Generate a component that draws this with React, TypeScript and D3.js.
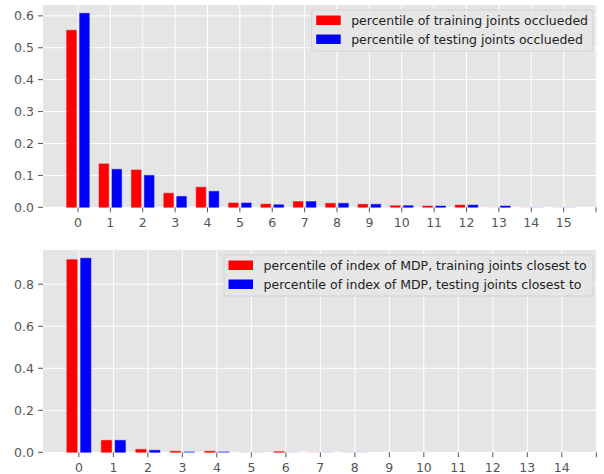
import React from "react";
import * as d3 from "d3";

// top panel: occlusion percentile per joint count
const occIdx = d3.range(16);
const occTrain = [0.555, 0.136, 0.117, 0.044, 0.063, 0.0135, 0.010, 0.018, 0.0125, 0.0094, 0.005, 0.004, 0.007, 0.0003, 0.0003, 0.0002];
const occTest = [0.608, 0.119, 0.100, 0.034, 0.050, 0.0135, 0.008, 0.018, 0.0125, 0.0094, 0.005, 0.004, 0.007, 0.004, 0.0003, 0.0002];
const occTicks = d3.range(17);
const occTickLabels = ["0", "1", "2", "3", "4", "5", "6", "7", "8", "9", "10", "11", "12", "13", "14", "15", ""];
const occYTicks = [0, 0.1, 0.2, 0.3, 0.4, 0.5, 0.6];
const occLegend = ["percentile of training joints occlueded", "percentile of testing joints occlueded"];

// bottom panel: index of MDP closest to joints
const mdpIdx = d3.range(15);
const mdpTrain = [0.917, 0.057, 0.014, 0.005, 0.005, 0.0003, 0.003, 0.0003, 0.0003, 0, 0, 0, 0, 0, 0];
const mdpTest = [0.924, 0.057, 0.0095, 0.002, 0.002, 0.0003, 0.0003, 0.0003, 0.0003, 0, 0, 0, 0, 0, 0];
const mdpTicks = d3.range(16);
const mdpTickLabels = ["0", "1", "2", "3", "4", "5", "6", "7", "8", "9", "10", "11", "12", "13", "14", ""];
const mdpYTicks = [0, 0.2, 0.4, 0.6, 0.8];
const mdpLegend = ["percentile of index of MDP, training joints closest to", "percentile of index of MDP, testing joints closest to"];

const FONT = "DejaVu Sans";
const TICK_COLOR = "#555555";

function Panel({ top, bottom, idx, a, b, xDomain, yDomain, ticks, tickLabels, yTicks, legend, legendBox }) {
  const left = 43;
  const right = 597;
  const x = d3.scaleLinear().domain(xDomain).range([left, right]);
  const y = d3.scaleLinear().domain(yDomain).range([bottom, top]);
  const w = x(0.3) - x(0);
  const bars = [
    { vals: a, off: -0.2, color: "red" },
    { vals: b, off: 0.2, color: "blue" },
  ];
  return (
    <g>
      <rect x={left} y={top} width={right - left} height={bottom - top} fill="#e5e5e5" />
      {ticks.map(t => (
        <line key={"gx" + t} x1={x(t)} x2={x(t)} y1={top} y2={bottom} stroke="white" strokeWidth={1} />
      ))}
      {yTicks.map(t => (
        <line key={"gy" + t} x1={left} x2={right} y1={y(t)} y2={y(t)} stroke="white" strokeWidth={1} />
      ))}
      {bars.map(s =>
        idx.map(i =>
          s.vals[i] > 0 ? (
            <rect
              key={s.color + i}
              x={x(i + s.off) - w / 2}
              y={y(s.vals[i])}
              width={w}
              height={y(0) - y(s.vals[i])}
              fill={s.color}
              stroke={s.color}
              strokeOpacity={s.vals[i] < 0.001 ? 0.12 : 0.45}
              strokeWidth={1}
              fillOpacity={s.vals[i] < 0.001 ? 0.1 : s.vals[i] < 0.003 ? 0.4 : 1}
            />
          ) : null
        )
      )}
      {ticks.map((t, i) => (
        <g key={"tx" + t}>
          <line x1={x(t)} x2={x(t)} y1={bottom} y2={bottom + 5} stroke={TICK_COLOR} />
          <text x={x(t)} y={bottom + 15} textAnchor="middle" dominantBaseline="central" fill={TICK_COLOR} fontSize={12.5} fontFamily={FONT}>
            {tickLabels[i]}
          </text>
        </g>
      ))}
      {yTicks.map(t => (
        <g key={"ty" + t}>
          <line x1={left - 5} x2={left} y1={y(t)} y2={y(t)} stroke={TICK_COLOR} />
          <text x={left - 9} y={y(t)} textAnchor="end" dominantBaseline="central" fill={TICK_COLOR} fontSize={12.5} fontFamily={FONT}>
            {d3.format(".1f")(t)}
          </text>
        </g>
      ))}
      <rect x={legendBox.x} y={legendBox.y} width={right - 4 - legendBox.x} height={41} rx={2} fill="#e5e5e5" fillOpacity={0.9} stroke="#d2d2d2" />
      {legend.map((txt, i) => (
        <g key={txt}>
          <rect x={legendBox.x + 4.5} y={legendBox.y + 5.5 + i * 19} width={24.5} height={9.5} fill={i === 0 ? "red" : "blue"} />
          <text x={legendBox.x + 39.5} y={legendBox.y + 10.5 + i * 19} dominantBaseline="central" fill="#222" fontSize={12.5} fontFamily={FONT}>
            {txt}
          </text>
        </g>
      ))}
    </g>
  );
}

export default function App() {
  return (
    <svg width={604} height={474} style={{ position: "absolute", left: 0, top: 0, background: "white" }}>
      <Panel
        top={5}
        bottom={207.3}
        idx={occIdx}
        a={occTrain}
        b={occTest}
        xDomain={[-1.08, 16.03]}
        yDomain={[0, 0.634]}
        ticks={occTicks}
        tickLabels={occTickLabels}
        yTicks={occYTicks}
        legend={occLegend}
        legendBox={{ x: 311.7, y: 10 }}
      />
      <Panel
        top={250}
        bottom={452.3}
        idx={mdpIdx}
        a={mdpTrain}
        b={mdpTest}
        xDomain={[-1.04, 15.02]}
        yDomain={[0, 0.963]}
        ticks={mdpTicks}
        tickLabels={mdpTickLabels}
        yTicks={mdpYTicks}
        legend={mdpLegend}
        legendBox={{ x: 224, y: 255 }}
      />
    </svg>
  );
}
